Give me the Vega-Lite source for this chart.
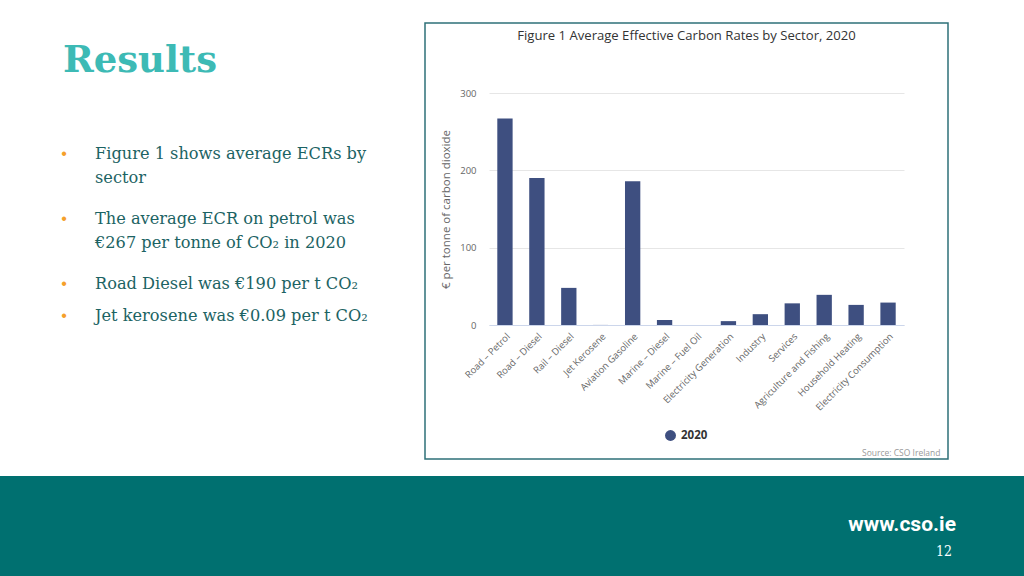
{
  "$schema": "https://vega.github.io/schema/vega-lite/v6.json",
  "background": "white",
  "padding": {"top": 22, "left": 0, "right": 0, "bottom": 0},
  "bounds": "full",
  "spacing": 16,
  "config": {"view": {"stroke": null}},
  "vconcat": [
    {
      "bounds": "flush",
      "spacing": 15,
      "hconcat": [
        {
          "width": 410,
          "height": 436,
          "title": {"text": "Results", "anchor": "start", "frame": "group", "orient": "top", "offset": -57, "dx": 63, "font": "DejaVu Serif", "fontSize": 37, "fontWeight": "bold", "color": "#3dbab5"},
          "data": {"values": [
            {"line": 0, "text": "Figure 1 shows average ECRs by\nsector"},
            {"line": 2, "text": "The average ECR on petrol was\n€267 per tonne of CO₂ in 2020"},
            {"line": 4, "text": "Road Diesel was €190 per t CO₂"},
            {"line": 5, "text": "Jet kerosene was €0.09 per t CO₂"}
          ]},
          "layer": [
            {
              "mark": {"type": "text", "align": "center", "baseline": "alphabetic", "color": "#f5a02a", "fontSize": 16},
              "encoding": {
                "x": {"datum": 0, "type": "quantitative", "scale": {"domain": [0, 1], "range": [64, 95]}, "axis": null},
                "y": {"field": "line", "type": "quantitative", "scale": {"domain": [0, 5], "range": [136, 298]}, "axis": null},
                "text": {"value": "•"}
              }
            },
            {
              "mark": {"type": "text", "align": "left", "baseline": "alphabetic", "lineBreak": "\n", "lineHeight": 24, "font": "DejaVu Serif", "fontSize": 16.2, "color": "#1c6363"},
              "encoding": {
                "x": {"datum": 1, "type": "quantitative", "scale": {"domain": [0, 1], "range": [64, 95]}, "axis": null},
                "y": {"field": "line", "type": "quantitative", "scale": {"domain": [0, 5], "range": [136, 298]}, "axis": null},
                "text": {"field": "text"}
              }
            }
          ]
        },
        {
          "width": 523,
          "height": 436,
          "view": {"stroke": "#2e7078", "strokeWidth": 1.5, "fill": "white"},
          "title": {"text": "Figure 1 Average Effective Carbon Rates by Sector, 2020", "anchor": "middle", "frame": "group", "offset": -20, "font": "Open Sans", "fontSize": 13.1, "fontWeight": "normal", "color": "#333333"},
          "data": {"values": [
            {"sector": "Road – Petrol", "value": 267, "year": "2020"},
            {"sector": "Road – Diesel", "value": 190, "year": "2020"},
            {"sector": "Rail – Diesel", "value": 48, "year": "2020"},
            {"sector": "Jet Kerosene", "value": 0.09, "year": "2020"},
            {"sector": "Aviation Gasoline", "value": 186, "year": "2020"},
            {"sector": "Marine – Diesel", "value": 6.5, "year": "2020"},
            {"sector": "Marine – Fuel Oil", "value": 0, "year": "2020"},
            {"sector": "Electricity Generation", "value": 5, "year": "2020"},
            {"sector": "Industry", "value": 14, "year": "2020"},
            {"sector": "Services", "value": 28, "year": "2020"},
            {"sector": "Agriculture and Fishing", "value": 39, "year": "2020"},
            {"sector": "Household Heating", "value": 26, "year": "2020"},
            {"sector": "Electricity Consumption", "value": 29, "year": "2020"}
          ]},
          "mark": {"type": "bar"},
          "encoding": {
            "x": {
              "field": "sector", "type": "nominal", "sort": null,
              "scale": {"range": [64, 479], "paddingInner": 0.52, "paddingOuter": 0.26},
              "axis": {
                "offset": -134, "labelAngle": -45, "labelAlign": "right", "labelBaseline": "top",
                "labelPadding": 6, "ticks": false, "domainColor": "#ccd6eb", "labelFont": "Open Sans",
                "labelFontSize": 9.5, "labelColor": "#666666", "labelLimit": 200, "grid": false,
                "title": "Source: CSO Ireland", "titleFont": "Open Sans", "titleFontSize": 8.5, "titleFontWeight": "normal",
                "titleColor": "#999999", "titleAnchor": null, "titleAlign": "right", "titleBaseline": "middle", "titleX": 515, "titleY": 127
              }
            },
            "y": {
              "field": "value", "type": "quantitative",
              "scale": {"domain": [0, 300], "nice": false, "range": [302, 70]},
              "axis": {
                "offset": -55, "values": [0, 100, 200, 300], "domain": false, "ticks": false, "labelPadding": 4,
                "labelFont": "Open Sans", "labelFontSize": 9.5, "labelColor": "#666666",
                "gridColor": "#e6e6e6", "gridWidth": 1,
                "title": "€ per tonne of carbon dioxide", "titleFont": "Open Sans", "titleFontSize": 11.5,
                "titleFontWeight": "normal", "titleColor": "#666666", "titlePadding": 8
              }
            },
            "color": {
              "field": "year", "type": "nominal",
              "scale": {"range": ["#3e4f80"]},
              "legend": {
                "orient": "none", "legendX": 664, "legendY": 406, "title": null, "symbolType": "circle",
                "symbolSize": 120, "labelFont": "Open Sans", "labelFontSize": 11.5, "labelFontWeight": "bold", "labelColor": "#333333"
              }
            }
          }
        }
      ]
    },
    {
      "width": 1024,
      "height": 102,
      "view": {"fill": "#007070", "stroke": null},
      "layer": [
        {
          "data": {"values": [{"label": "www.cso.ie"}]},
          "mark": {"type": "text", "align": "right", "baseline": "middle", "font": "Roboto", "fontWeight": "bold", "fontSize": 21, "color": "white"},
          "encoding": {
            "x": {"datum": 1, "type": "quantitative", "scale": {"domain": [0, 1], "range": [0, 956]}, "axis": null},
            "y": {"datum": 0, "type": "quantitative", "scale": {"domain": [0, 1], "range": [49, 76]}, "axis": null},
            "text": {"field": "label"}
          }
        },
        {
          "data": {"values": [{"label": "12"}]},
          "mark": {"type": "text", "align": "right", "baseline": "middle", "font": "DejaVu Serif Condensed", "fontSize": 14, "color": "white"},
          "encoding": {
            "x": {"datum": 1, "type": "quantitative", "scale": {"domain": [0, 1], "range": [0, 952]}, "axis": null},
            "y": {"datum": 1, "type": "quantitative", "scale": {"domain": [0, 1], "range": [49, 76]}, "axis": null},
            "text": {"field": "label"}
          }
        }
      ],
      "resolve": {"scale": {"x": "independent"}}
    }
  ]
}
